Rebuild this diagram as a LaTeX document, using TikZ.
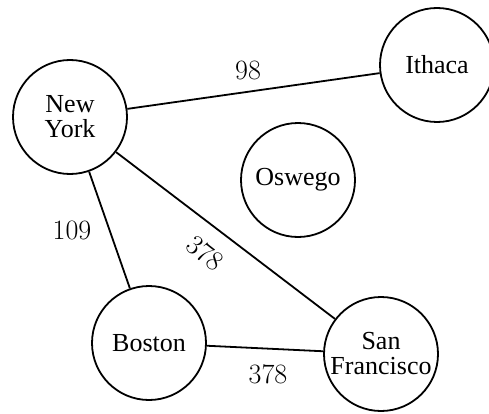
\documentclass[tikz,border=0pt]{standalone}
\usepackage{fontspec}
\newfontfamily\cityfont{Liberation Serif}
\begin{document}
\begin{tikzpicture}[x=1pt,y=1pt,
  city/.style={circle,draw,line width=1.8pt,minimum size=114pt,inner sep=0pt,align=center,
    font=\cityfont\fontsize{26}{25}\selectfont},
  road/.style={line width=1.8pt},
  dist/.style={inner sep=0pt,font=\fontsize{28}{28}\selectfont}]
\useasboundingbox (0,0) rectangle (489,413);
\node[city] (ny) at (70,296) {New\\York};
\node[city] (ith) at (437,348) {Ithaca};
\node[city] (osw) at (298,233) {Oswego};
\node[city] (bos) at (149,70) {Boston};
\node[city] (sf) at (381,59) {San\\Francisco};
\draw[road] (ny) -- (ith);
\draw[road] (ny) -- (bos);
\draw[road] (ny) -- (sf);
\draw[road] (bos) -- (sf);
\node[dist] (d1) at (248,343) {98};
\node[dist] (d2) at (72,183) {109};
\node[dist,rotate=-38] (d3) at (205,160) {378};
\node[dist] (d4) at (268,39) {378};
\end{tikzpicture}
\end{document}
